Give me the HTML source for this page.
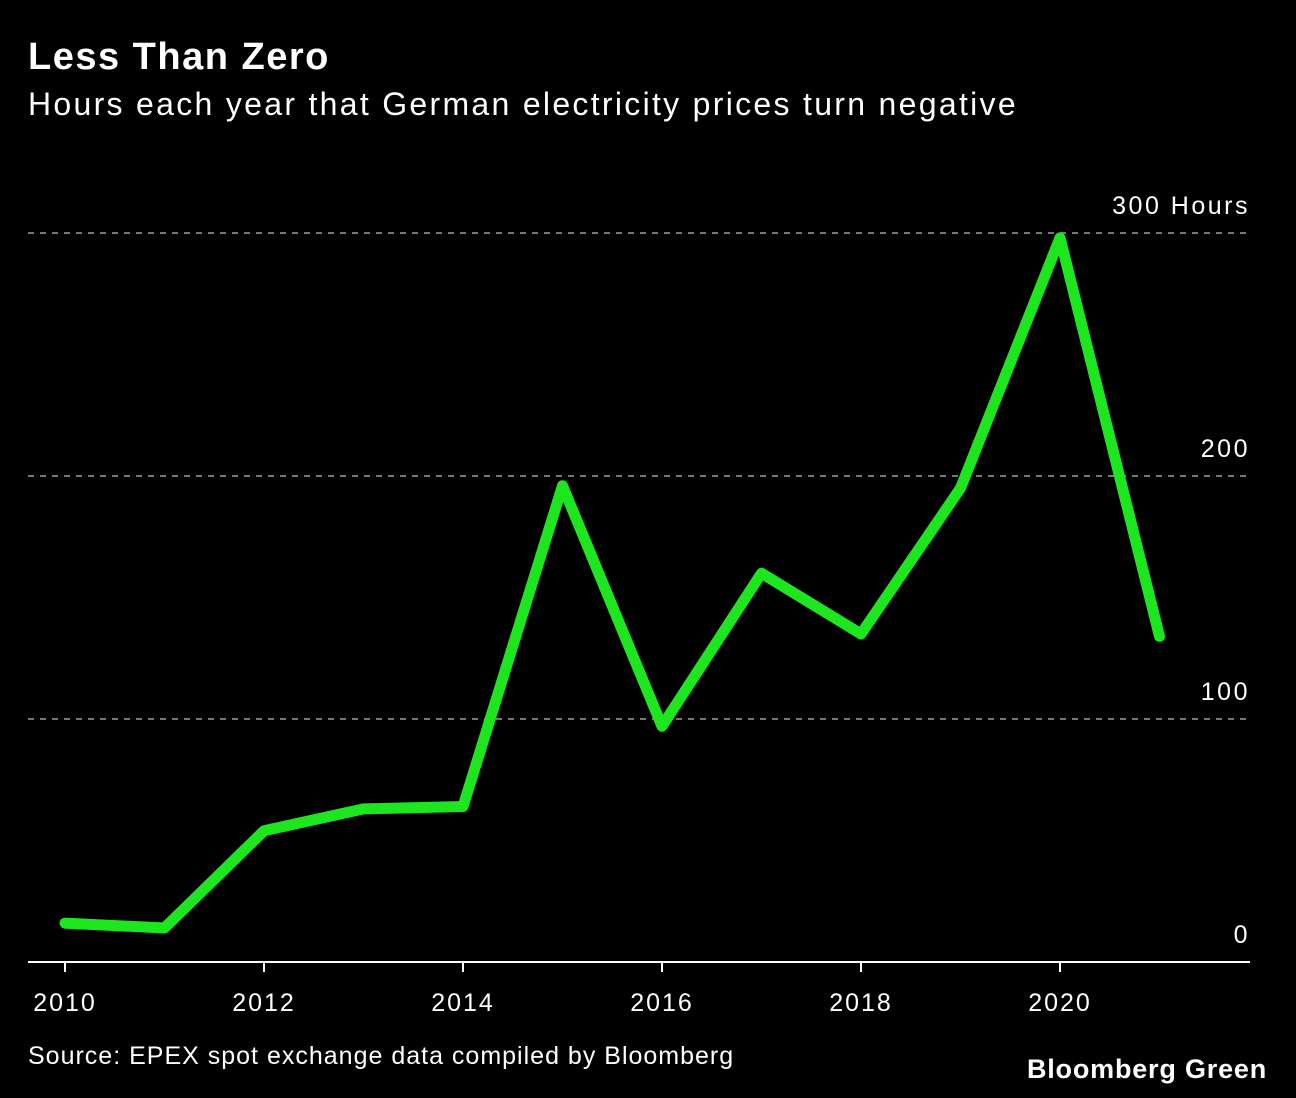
<!DOCTYPE html>
<html><head><meta charset="utf-8">
<style>
html,body{margin:0;padding:0;background:#000;}
body{width:1296px;height:1098px;overflow:hidden;font-family:"Liberation Sans",sans-serif;color:#fff;position:relative;}
#title{position:absolute;left:28px;top:36px;font-size:38px;font-weight:bold;letter-spacing:1.5px;}
#subtitle{position:absolute;left:28px;top:86px;font-size:32px;letter-spacing:2.3px;}
#source{position:absolute;left:28px;top:1042px;font-size:25px;letter-spacing:1px;}
#brand{position:absolute;right:29px;top:1054px;font-size:27px;font-weight:bold;letter-spacing:0.8px;}
svg{position:absolute;left:0;top:0;}
</style></head><body>
<div id="title">Less Than Zero</div>
<div id="subtitle">Hours each year that German electricity prices turn negative</div>
<svg id="chart" width="1296" height="1098"></svg>
<div id="source">Source: EPEX spot exchange data compiled by Bloomberg</div>
<div id="brand">Bloomberg Green</div>
<script>
const years=[2010,2011,2012,2013,2014,2015,2016,2017,2018,2019,2020,2021];
const hours=[16,14,54,63,64,196,97,160,135,195,298,134];
const yTicks=[0,100,200,300];
const yTickLabels=["0","100","200","300 Hours"];
const xTicks=[2010,2012,2014,2016,2018,2020];

const NS="http://www.w3.org/2000/svg";
const svg=document.getElementById('chart');
const x=v=>65+(v-2010)*99.5;
const y=v=>962-v*2.43;
function mk(t,a){const e=document.createElementNS(NS,t);for(const k in a)e.setAttribute(k,a[k]);svg.appendChild(e);return e;}

yTicks.forEach((t,i)=>{
  if(t>0){
    const g=mk('line',{x1:28,x2:1250,y1:y(t),y2:y(t),stroke:'#777','stroke-width':2,'stroke-dasharray':'6,6'});
    
    
  }
  const tx=mk('text',{x:1250,y:y(t)-19,'text-anchor':'end',fill:'#fff','font-size':25,'letter-spacing':2.5,'font-family':'Liberation Sans, sans-serif'});
  tx.textContent=yTickLabels[i];
  
  
});
const ax=mk('line',{x1:28,x2:1250,y1:962,y2:962,stroke:'#fff','stroke-width':2});


xTicks.forEach(t=>{
  const tk=mk('line',{x1:x(t),x2:x(t),y1:962,y2:972,stroke:'#fff','stroke-width':2});
  
  
  const tx=mk('text',{x:x(t),y:1011,'text-anchor':'middle',fill:'#fff','font-size':25,'letter-spacing':2,'font-family':'Liberation Sans, sans-serif'});
  tx.textContent=t;
  
  
});
const pts=years.map((yr,i)=>x(yr)+','+y(hours[i])).join(' ');
const line=mk('polyline',{points:pts,fill:'none',stroke:'#1ee61e','stroke-width':11,'stroke-linejoin':'round','stroke-linecap':'round'});


</script>
</body></html>
